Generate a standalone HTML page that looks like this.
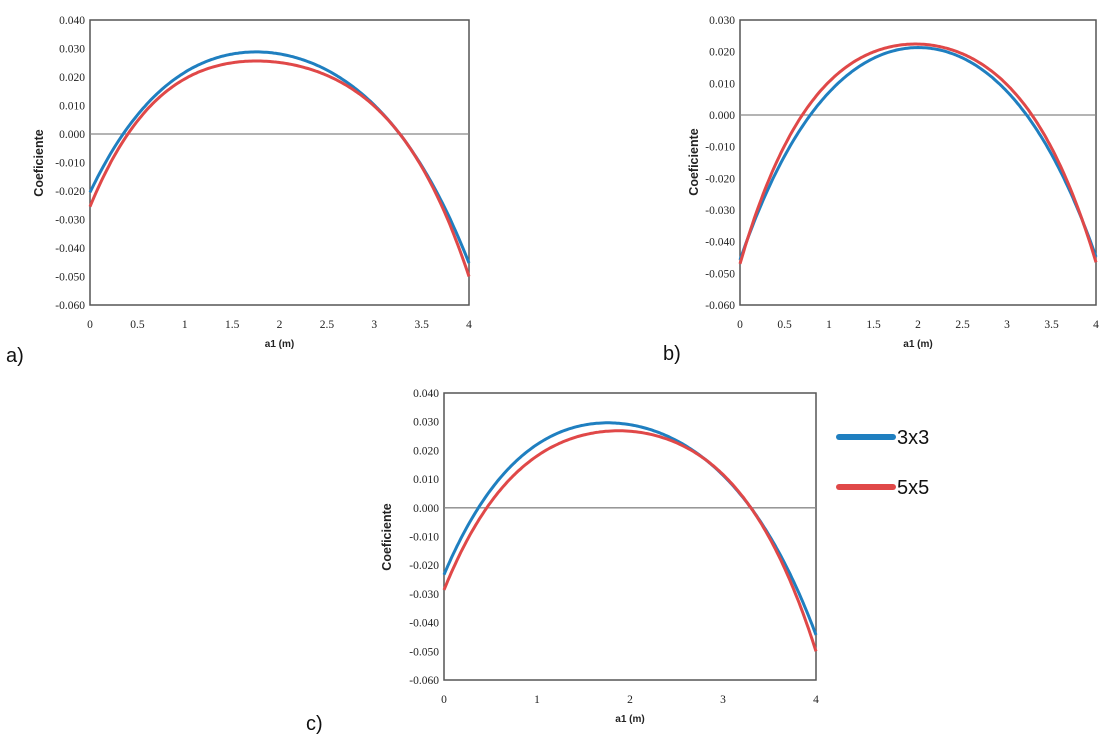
<!DOCTYPE html>
<html><head><meta charset="utf-8"><style>
body{margin:0;background:#fff;}
svg{display:block;}
.t{font-family:"Liberation Serif",serif;font-size:11.5px;fill:#222;}
.ax{font-family:"Liberation Sans",sans-serif;font-size:10px;font-weight:bold;fill:#222;}
.ay{font-family:"Liberation Sans",sans-serif;font-size:12.5px;font-weight:bold;fill:#222;}
.lb{font-family:"Liberation Sans",sans-serif;font-size:20px;fill:#111;}
</style></head><body>
<svg id="s" width="1105" height="748" xmlns="http://www.w3.org/2000/svg"></svg>
<script>
const s=document.getElementById('s');let h='';
function lag(pts,x){let y=0;for(let i=0;i<pts.length;i++){let l=1;for(let j=0;j<pts.length;j++)if(j!=i)l*=(x-pts[j][0])/(pts[i][0]-pts[j][0]);y+=l*pts[i][1];}return y;}
function chart(c){
 const {L,R,T,B,ymax,ymin,step,xt,xlab,yl,cy}=c;
 const sx=x=>L+(R-L)*x/4, sy=v=>T+(B-T)*(ymax-v)/(ymax-ymin);
 h+=`<rect x="${L}" y="${T}" width="${R-L}" height="${B-T}" fill="none" stroke="#555" stroke-width="1.5"/>`;
 h+=`<line x1="${L}" x2="${R}" y1="${sy(0)}" y2="${sy(0)}" stroke="#888" stroke-width="1.3"/>`;
 for(let v=ymax;v>=ymin-1e-9;v-=step){const vv=Math.abs(v)<1e-9?0:v;h+=`<text class="t" x="${L-5}" y="${sy(vv)+4}" text-anchor="end">${vv.toFixed(3)}</text>`;}
 xt.forEach(x=>{h+=`<text class="t" x="${sx(x)}" y="${B+23}" text-anchor="middle">${x}</text>`;});
 h+=`<text class="ax" x="${(L+R)/2}" y="${B+xlab}" text-anchor="middle">a1 (m)</text>`;
 h+=`<text class="ay" transform="translate(${yl},${cy}) rotate(-90)" text-anchor="middle">Coeficiente</text>`;
 [[c.blue,'#1f7fc0'],[c.red,'#e04848']].forEach(([p,col])=>{let d='';for(let i=0;i<=200;i++){const x=4*i/200;d+=(i?'L':'M')+sx(x).toFixed(1)+','+sy(lag(p,x)).toFixed(1);}h+=`<path d="${d}" fill="none" stroke="${col}" stroke-width="3"/>`;});
}
chart({L:90,R:469,T:20,B:305,ymax:0.04,ymin:-0.06,step:0.01,xt:[0,0.5,1,1.5,2,2.5,3,3.5,4],xlab:42,yl:43,cy:163,
 blue:[[0,-0.0205],[0.35,0],[1.76,0.0288],[3.27,0],[4,-0.0453]],red:[[0,-0.0255],[0.4,0],[1.8,0.0256],[3.27,0],[4,-0.050]]});
chart({L:740,R:1096,T:20,B:305,ymax:0.03,ymin:-0.06,step:0.01,xt:[0,0.5,1,1.5,2,2.5,3,3.5,4],xlab:42,yl:698,cy:162,
 blue:[[0,-0.0458],[0.79,0],[2.0,0.0213],[3.22,0],[4,-0.0448]],red:[[0,-0.047],[0.7,0],[2.0,0.0224],[3.28,0],[4,-0.0465]]});
chart({L:444,R:816,T:393,B:680,ymax:0.04,ymin:-0.06,step:0.01,xt:[0,1,2,3,4],xlab:42,yl:391,cy:537,
 blue:[[0,-0.0233],[0.37,0],[1.78,0.0296],[3.3,0],[4,-0.0443]],red:[[0,-0.0286],[0.46,0],[1.82,0.0268],[3.3,0],[4,-0.050]]});
h+=`<text class="lb" x="6" y="362">a)</text><text class="lb" x="663" y="360">b)</text><text class="lb" x="306" y="730">c)</text>`;
h+=`<line x1="839" x2="893" y1="437" y2="437" stroke="#1f7fc0" stroke-width="6" stroke-linecap="round"/><text class="lb" x="897" y="444">3x3</text>`;
h+=`<line x1="839" x2="893" y1="487" y2="487" stroke="#e04848" stroke-width="6" stroke-linecap="round"/><text class="lb" x="897" y="494">5x5</text>`;
s.innerHTML=h;
</script>
</body></html>
